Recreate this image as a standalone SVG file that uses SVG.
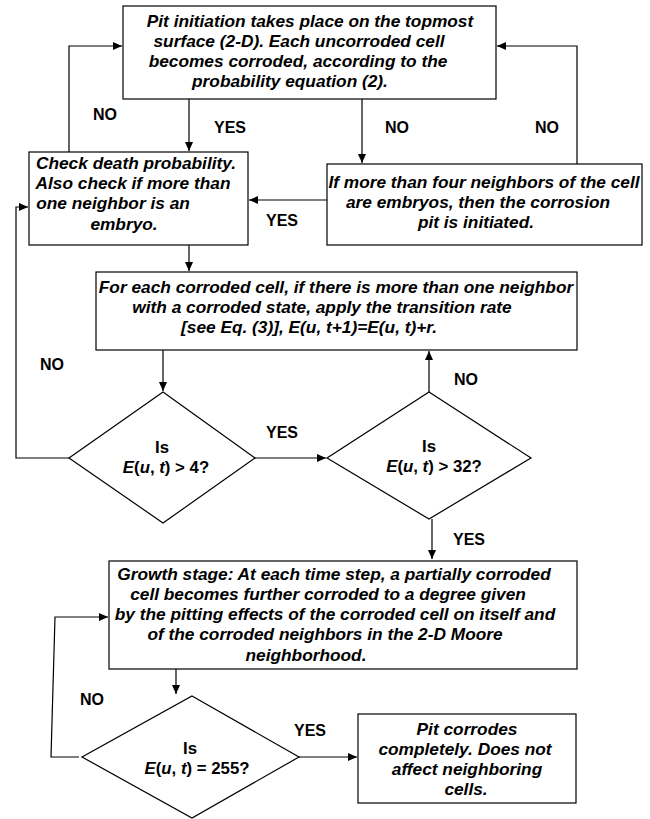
<svg xmlns="http://www.w3.org/2000/svg" width="650" height="819" viewBox="0 0 650 819">
<defs>
<style>
.box{fill:#fff;stroke:#000;stroke-width:1.2}
.c{fill:none;stroke:#000;stroke-width:1.2}
.t{font-family:"Liberation Sans",Arial,sans-serif;font-weight:bold;font-style:italic;font-size:17.3px;text-anchor:middle;fill:#000}
.l{font-family:"Liberation Sans",Arial,sans-serif;font-weight:bold;font-size:16px;text-anchor:middle;fill:#000}
.d{font-size:16.8px}
.i{font-style:italic}
</style>
<marker id="ah" markerUnits="userSpaceOnUse" markerWidth="9" markerHeight="8" refX="9" refY="4" orient="auto">
<path d="M0,0 L9,4 L0,8 z" fill="#000"/>
</marker>
</defs>
<rect width="650" height="819" fill="#fff"/>
<g id="connectors">
<line class="c" x1="189" y1="86" x2="189" y2="151" marker-end="url(#ah)"/>
<line class="c" x1="362" y1="86" x2="362" y2="163" marker-end="url(#ah)"/>
<polyline class="c" points="577,164 577,46 497,46" marker-end="url(#ah)"/>
<polyline class="c" points="69,152 69,46 122,46" marker-end="url(#ah)"/>
<line class="c" x1="327" y1="200" x2="249" y2="200" marker-end="url(#ah)"/>
<line class="c" x1="189" y1="245" x2="189" y2="271" marker-end="url(#ah)"/>
<line class="c" x1="163" y1="350" x2="163" y2="391" marker-end="url(#ah)"/>
<line class="c" x1="255" y1="458" x2="326" y2="458" marker-end="url(#ah)"/>
<polyline class="c" points="69,458 16,458 16,207 28,207" marker-end="url(#ah)"/>
<line class="c" x1="429" y1="392" x2="429" y2="351" marker-end="url(#ah)"/>
<line class="c" x1="432" y1="519" x2="432" y2="559" marker-end="url(#ah)"/>
<line class="c" x1="176" y1="669" x2="176" y2="694" marker-end="url(#ah)"/>
<polyline class="c" points="79,757 51,757 55,617 108,617" marker-end="url(#ah)"/>
<line class="c" x1="299" y1="757" x2="357" y2="757" marker-end="url(#ah)"/>
<text class="l" x="105" y="120">NO</text>
<text class="l" x="230" y="133">YES</text>
<text class="l" x="397" y="133">NO</text>
<text class="l" x="547" y="133">NO</text>
<text class="l" x="282" y="226">YES</text>
<text class="l" x="52" y="370">NO</text>
<text class="l" x="282" y="438">YES</text>
<text class="l" x="466" y="385">NO</text>
<text class="l" x="469" y="545">YES</text>
<text class="l" x="92" y="705">NO</text>
<text class="l" x="310" y="736">YES</text>
</g>
<g id="initiation">
<rect class="box" x="123" y="6" width="373" height="93"/>
<text class="t" x="310" y="27">Pit initiation takes place on the topmost</text>
<text class="t" x="299" y="47">surface (2-D). Each uncorroded cell</text>
<text class="t" x="298" y="67">becomes corroded, according to the</text>
<text class="t" x="290" y="87">probability equation (2).</text>
</g>
<g id="death">
<rect class="box" x="29" y="152" width="219" height="93"/>
<text class="t" x="136" y="169">Check death probability.</text>
<text class="t" x="133" y="189">Also check if more than</text>
<text class="t" x="113" y="209">one neighbor is an</text>
<text class="t" x="124" y="230">embryo.</text>
</g>
<g id="embryos">
<rect class="box" x="327" y="164" width="315" height="81"/>
<text class="t" x="484" y="188">If more than four neighbors of the cell</text>
<text class="t" x="478" y="208">are embryos, then the corrosion</text>
<text class="t" x="476" y="228">pit is initiated.</text>
</g>
<g id="transition">
<rect class="box" x="96" y="272" width="481" height="78"/>
<text class="t" x="336" y="293">For each corroded cell, if there is more than one neighbor</text>
<text class="t" x="322" y="313">with a corroded state, apply the transition rate</text>
<text class="t" x="309" y="333">[see Eq. (3)], E(u, t+1)=E(u, t)+r.</text>
</g>
<g id="check4">
<polygon class="box" points="163,392 255,458 163,523 69,458"/>
<text class="l d" x="162" y="453">Is</text>
<text class="l d" x="166" y="473"><tspan class="i">E</tspan>(<tspan class="i">u</tspan>, <tspan class="i">t</tspan>) &gt; 4?</text>
</g>
<g id="check32">
<polygon class="box" points="429,392 531,458 429,519 327,458"/>
<text class="l d" x="429" y="452">Is</text>
<text class="l d" x="434" y="472"><tspan class="i">E</tspan>(<tspan class="i">u</tspan>, <tspan class="i">t</tspan>) &gt; 32?</text>
</g>
<g id="growth">
<rect class="box" x="109" y="561" width="468" height="108"/>
<text class="t" x="334" y="580">Growth stage: At each time step, a partially corroded</text>
<text class="t" x="328" y="600">cell becomes further corroded to a degree given</text>
<text class="t" x="335" y="620">by the pitting effects of the corroded cell on itself and</text>
<text class="t" x="325" y="640">of the corroded neighbors in the 2-D Moore</text>
<text class="t" x="306" y="661">neighborhood.</text>
</g>
<g id="check255">
<polygon class="box" points="192,696 299,757 192,818 82,757"/>
<text class="l d" x="190" y="754">Is</text>
<text class="l d" x="197" y="774"><tspan class="i">E</tspan>(<tspan class="i">u</tspan>, <tspan class="i">t</tspan>) = 255?</text>
</g>
<g id="complete">
<rect class="box" x="358" y="714" width="218" height="89"/>
<text class="t" x="467" y="735">Pit corrodes</text>
<text class="t" x="465" y="755">completely. Does not</text>
<text class="t" x="467" y="775">affect neighboring</text>
<text class="t" x="466" y="795">cells.</text>
</g>
</svg>
